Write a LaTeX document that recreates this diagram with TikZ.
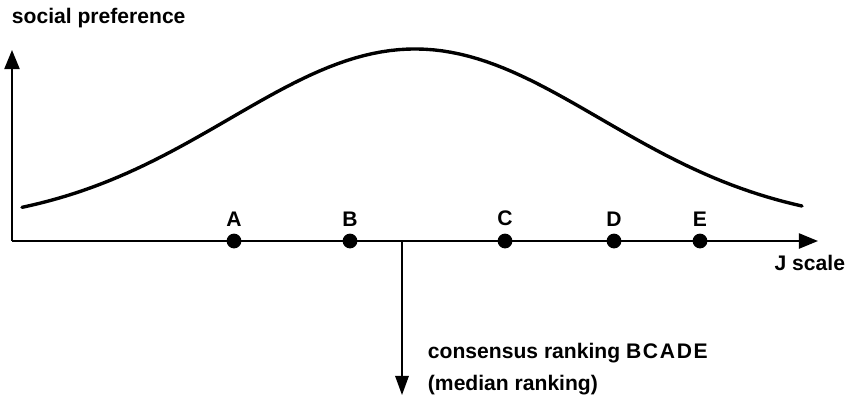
\documentclass[tikz,border=0pt]{standalone}
\usepackage{fontspec}
\setmainfont{Liberation Sans}
\usetikzlibrary{arrows.meta}

\begin{document}
\begin{tikzpicture}[x=0.025cm, y=-0.025cm, >={Triangle[length=4.8mm, width=3.8mm]},
    font=\fontsize{15}{18}\selectfont\bfseries,
    axis/.style={->, line width=1.5pt},
    dot/.style={circle, fill=black, inner sep=0pt, minimum size=0.37cm},
    every label/.style={inner sep=0pt}, label distance=1.75mm,
    curve/.style={line width=2.4pt, line cap=round}]
  \useasboundingbox (0,0) rectangle (853,397);
  \fill[white] (0,0) rectangle (853,397);

  % axes
  \coordinate (origin) at (12,241);
  \coordinate (ytip) at (12,50);
  \coordinate (xtip) at (818,241);
  \draw[axis] (origin) -- (ytip);
  \draw[axis] (origin) -- (xtip);
  \node[anchor=base west] (ylabel) at (7,23) {social preference};
  \node[anchor=base east] (xlabel) at (850,270) {J scale};

  % preference curve
  \draw[curve] plot[domain=22:802, samples=90] (\x, {226-177*exp(-((\x-415)/262)^2)});

  % alternatives on the J scale
  \foreach \name/\x in {A/234, B/350, C/505, D/614, E/700}
    \node[dot, label=above:\name] (\name) at (\x,241) {};

  % median
  \coordinate (median) at (402,241);
  \coordinate (mediantip) at (402,395);
  \draw[->, line width=1.1pt, >={Triangle[length=4.8mm, width=3.4mm]}] (median) -- (mediantip);
  \node[anchor=base west] (consensus) at (423,358)
    {consensus ranking {\addfontfeature{LetterSpace=8}BCADE}};
  \node[anchor=base west] (mediannote) at (423,390) {(median ranking)};
\end{tikzpicture}
\end{document}
